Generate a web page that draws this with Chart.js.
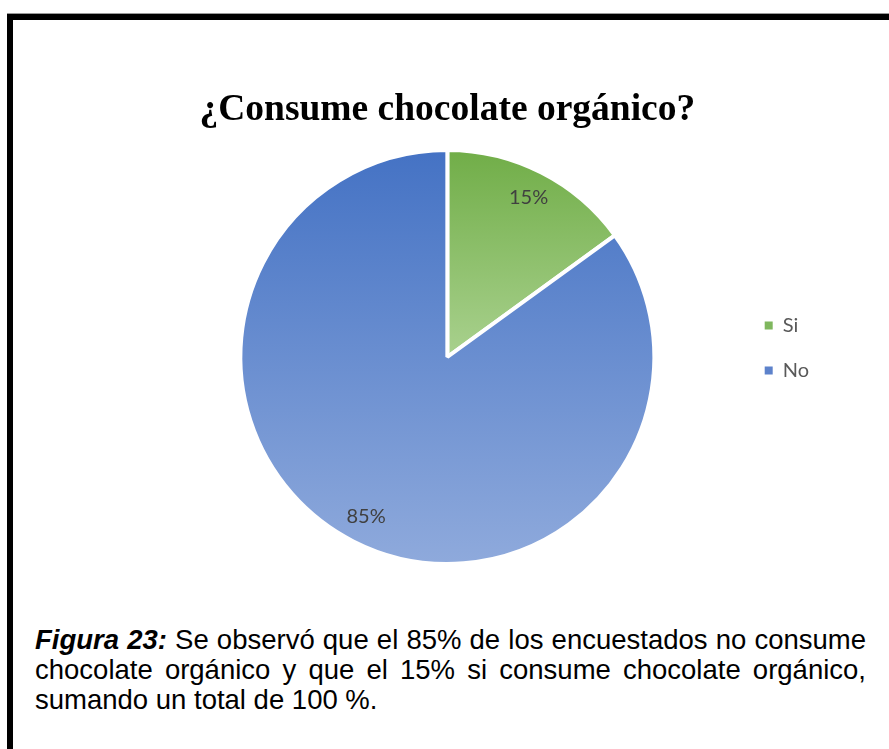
<!DOCTYPE html>
<html lang="es">
<head>
<meta charset="utf-8">
<title>¿Consume chocolate orgánico?</title>
<script src="https://cdn.jsdelivr.net/npm/chart.js@4.4.1/dist/chart.umd.min.js"></script>
<style>
  html, body { margin: 0; padding: 0; background: #fff; }
  body { width: 889px; height: 749px; position: relative; overflow: hidden; }
  .marco {
    position: absolute; left: 7px; top: 14px; width: 1000px; height: 1000px;
    border-left: 6px solid #000; border-top: 6px solid #000;
    box-shadow: 0 -1px 0 #9a9a9a;
  }
  #grafico { position: absolute; left: 0; top: 0; width: 889px; height: 580px; }
  .leyenda-figura {
    position: absolute; left: 35px; top: 625px; width: 831px;
    font-family: "Liberation Sans", Arial, sans-serif; font-size: 27.5px; line-height: 30px; color: #000;
  }
  .leyenda-figura div { text-align: justify; text-align-last: justify; }
  .leyenda-figura div.ultima { text-align-last: left; }
</style>
</head>
<body>
<div class="marco"></div>
<div id="grafico"><canvas id="torta"></canvas></div>
<div class="leyenda-figura">
  <div><b><i>Figura 23:</i></b> Se observó que el 85% de los encuestados no consume</div>
  <div>chocolate orgánico y que el 15% si consume chocolate orgánico,</div>
  <div class="ultima">sumando un total de 100 %.</div>
</div>
<script>
const categorias = ["Si", "No"];
const porcentajes = [15, 85];

// degradado vertical de cada porción: color base arriba, tono claro abajo
const coloresArriba = ["#70AD47", "#4472C4"];
const coloresAbajo = ["#A9D18E", "#8FAADC"];
const coloresLeyenda = ["#7FB75E", "#5D82CB"];

function cajaPorcion(i, cy, r) {
  const total = porcentajes.reduce((a, b) => a + b, 0);
  let ini = -Math.PI / 2;
  for (let k = 0; k < i; k++) ini += porcentajes[k] / total * 2 * Math.PI;
  const fin = ini + porcentajes[i] / total * 2 * Math.PI;
  const ys = [cy, cy + r * Math.sin(ini), cy + r * Math.sin(fin)];
  // extremos superior/inferior del círculo si caen dentro del arco
  [-Math.PI / 2, Math.PI / 2, 3 * Math.PI / 2].forEach(function (a) {
    if (a > ini + 1e-6 && a < fin - 1e-6) ys.push(cy + r * Math.sin(a));
  });
  return { top: Math.min.apply(null, ys), bottom: Math.max.apply(null, ys) };
}

function degradado(ctx) {
  const i = ctx.dataIndex;
  const area = ctx.chart.chartArea;
  if (!area) return coloresArriba[i];
  const cy = (area.top + area.bottom) / 2;
  const r = Math.min(area.width, area.height) / 2;
  const caja = cajaPorcion(i, cy, r);
  const g = ctx.chart.ctx.createLinearGradient(0, caja.top, 0, caja.bottom);
  g.addColorStop(0, coloresArriba[i]);
  g.addColorStop(1, coloresAbajo[i]);
  return g;
}

// porcentajes dentro de cada porción
const etiquetasPorcion = {
  id: "etiquetasPorcion",
  afterDatasetsDraw(chart) {
    const c = chart.ctx;
    const meta = chart.getDatasetMeta(0);
    c.save();
    c.font = "20px Lato";
    c.fillStyle = "#404040";
    c.textAlign = "center";
    c.textBaseline = "middle";
    meta.data.forEach(function (arc, i) {
      const p = arc.getProps(["x", "y", "startAngle", "endAngle", "outerRadius"], true);
      const medio = (p.startAngle + p.endAngle) / 2;
      const d = p.outerRadius * 0.865;
      c.fillText(porcentajes[i] + "%", p.x + Math.cos(medio) * d, p.y + Math.sin(medio) * d);
    });
    c.restore();
  }
};

// la leyenda queda un poco por encima del centro de la torta
const subirLeyenda = {
  id: "subirLeyenda",
  afterLayout(chart) {
    chart.legend.top -= 9;
    chart.legend.bottom -= 9;
  }
};

Chart.defaults.font.family = "Lato";

new Chart(document.getElementById("torta"), {
  type: "pie",
  data: {
    labels: categorias,
    datasets: [{
      data: porcentajes,
      backgroundColor: degradado,
      borderColor: "#fff",
      borderWidth: 4
    }]
  },
  options: {
    responsive: true,
    maintainAspectRatio: false,
    animation: false,
    layout: { padding: { left: 155, right: 70, top: 0, bottom: 14 } },
    plugins: {
      title: {
        display: true,
        text: "¿Consume chocolate orgánico?",
        fullSize: false,
        color: "#000",
        font: { family: "'Liberation Serif', 'Times New Roman', serif", size: 37.5, weight: "bold" },
        padding: { top: 88, bottom: 15 }
      },
      legend: {
        position: "right",
        fullSize: false,
        labels: {
          boxWidth: 8,
          boxHeight: 8,
          padding: 25,
          color: "#595959",
          font: { size: 20 },
          generateLabels: function () {
            return categorias.map(function (c, i) {
              return { text: c, fillStyle: coloresLeyenda[i], strokeStyle: coloresLeyenda[i], lineWidth: 0, fontColor: "#595959", hidden: false, index: i };
            });
          }
        }
      },
      tooltip: { enabled: false }
    }
  },
  plugins: [etiquetasPorcion, subirLeyenda]
});
</script>
</body>
</html>
